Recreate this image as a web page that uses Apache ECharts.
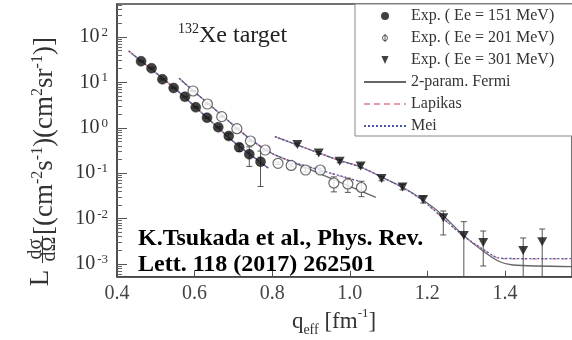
<!DOCTYPE html>
<html><head><meta charset="utf-8">
<script src="https://cdn.jsdelivr.net/npm/echarts@6/dist/echarts.min.js"></script>
<style>html,body{margin:0;padding:0;background:#fff}#c{width:572px;height:340px}</style>
</head><body><div id="c"></div>
<script>
// ---- axes / ticks ----
const xTickValues = [0.4, 0.6, 0.8, 1.0, 1.2, 1.4];
const xTickLabels = ['0.4', '0.6', '0.8', '1.0', '1.2', '1.4'];
const yTickValues = [1e-3, 1e-2, 1e-1, 1, 10, 100];
const yTickExponents = ['-3', '-2', '-1', '0', '1', '2'];

// ---- Exp. Ee = 151 MeV ----
const q151 = [0.462, 0.489, 0.517, 0.546, 0.575, 0.603, 0.632, 0.661, 0.688, 0.715, 0.741, 0.770];
const cs151 = [29.2, 20.5, 11.7, 7.53, 4.84, 2.83, 1.67, 1.03, 0.659, 0.372, 0.261, 0.179];
const err151 = [1.0, 0.7, 0.4, 0.25, 0.15, 0.09, 0.05, 0.04, 0.10, 0.07, 0.12, 0.128];

// ---- Exp. Ee = 201 MeV ----
const q201 = [0.596, 0.633, 0.670, 0.709, 0.744, 0.782, 0.815, 0.849, 0.886, 0.924, 0.959, 0.995, 1.030];
const cs201 = [6.47, 3.34, 1.76, 0.955, 0.512, 0.324, 0.165, 0.148, 0.1175, 0.1175, 0.0608, 0.0578, 0.0484];
const err201 = [0.2, 0.1, 0.06, 0.03, 0.02, 0.015, 0.01, 0.01, 0.012, 0.012, 0.022, 0.02, 0.018];

// ---- Exp. Ee = 301 MeV ----
const q301 = [0.865, 0.920, 0.974, 1.028, 1.082, 1.136, 1.189, 1.241, 1.294, 1.344, 1.447, 1.496];
const cs301 = [0.429, 0.279, 0.184, 0.144, 0.0764, 0.0497, 0.0264, 0.0104, 0.00425, 0.00298, 0.00198, 0.00310];
const lo301 = [0.40, 0.26, 0.17, 0.13, 0.068, 0.043, 0.022, 0.00436, 0, 0.000904, 0, 0];
const hi301 = [0.46, 0.30, 0.20, 0.16, 0.085, 0.057, 0.031, 0.0147, 0.00855, 0.00533, 0.00374, 0.0059];

// ---- 2-param. Fermi curves ----
const fermiQ151 = [0.430, 0.500, 0.550, 0.600, 0.650, 0.700, 0.750, 0.790];
const fermiV151 = [49.2, 16.4, 7.22, 2.98, 1.21, 0.497, 0.233, 0.130];
const fermiQ201 = [0.56, 0.60, 0.65, 0.70, 0.75, 0.80, 0.85, 0.90, 0.95, 1.00, 1.067];
const fermiV201 = [12.3, 6.15, 2.65, 1.14, 0.509, 0.272, 0.179, 0.118, 0.0776, 0.0514, 0.0294];
const fermiQ301 = [0.807, 0.865, 0.920, 0.974, 1.028, 1.082, 1.136, 1.189, 1.239, 1.292, 1.346, 1.387, 1.420, 1.573];
const fermiV301 = [0.637, 0.418, 0.279, 0.1905, 0.137, 0.0824, 0.0489, 0.0257, 0.0120, 0.00436, 0.00187, 0.00112, 0.00095, 0.000873];

// ---- Lapikas curves ----
const lapQ151 = [0.430, 0.500, 0.550, 0.600, 0.650, 0.700, 0.750, 0.790];
const lapV151 = [49.0, 16.5, 7.25, 3.0, 1.22, 0.50, 0.235, 0.132];
const lapQ201 = [0.56, 0.60, 0.65, 0.70, 0.75, 0.80, 0.85, 0.90, 0.95, 1.00, 1.025];
const lapV201 = [12.3, 6.15, 2.65, 1.14, 0.509, 0.272, 0.179, 0.132, 0.0995, 0.0748, 0.064];
const lapQ301 = [0.807, 0.865, 0.920, 0.974, 1.028, 1.082, 1.136, 1.189, 1.239, 1.292, 1.346, 1.383, 1.420, 1.573];
const lapV301 = [0.637, 0.418, 0.279, 0.1905, 0.137, 0.0824, 0.0489, 0.0245, 0.0103, 0.00414, 0.00203, 0.00134, 0.00130, 0.00129];

// ---- Mei curves ----
const meiQ151 = [0.430, 0.500, 0.550, 0.600, 0.650, 0.700, 0.750, 0.790];
const meiV151 = [49.3, 16.3, 7.2, 2.97, 1.21, 0.495, 0.232, 0.129];
const meiQ201 = [0.56, 0.60, 0.65, 0.70, 0.75, 0.80, 0.85, 0.90, 0.95, 1.00, 1.025];
const meiV201 = [12.3, 6.15, 2.65, 1.14, 0.509, 0.272, 0.180, 0.135, 0.101, 0.0765, 0.066];
const meiQ301 = [0.807, 0.865, 0.920, 0.974, 1.028, 1.082, 1.136, 1.189, 1.239, 1.292, 1.346, 1.383, 1.420, 1.573];
const meiV301 = [0.637, 0.418, 0.279, 0.1905, 0.137, 0.0824, 0.0489, 0.0247, 0.0105, 0.00420, 0.00205, 0.00136, 0.00132, 0.00131];

const NAMES = ['Exp. ( Ee = 151 MeV)', 'Exp. ( Ee = 201 MeV)', 'Exp. ( Ee = 301 MeV)', '2-param. Fermi', 'Lapikas', 'Mei'];

const SERIF = '"Liberation Serif", "Times New Roman", serif';
const Y_MIN = 5.25e-4, Y_MAX = 533;
const X_MIN = 0.4, X_MAX = 1.5728;

const yMinor = [];
for (let e = -4; e <= 2; e++) for (let k = 2; k <= 9; k++) {
  const v = k * Math.pow(10, e);
  if (v > Y_MIN && v < Y_MAX) yMinor.push(v);
}

const pairs = (q, v) => q.map((x, i) => [x, v[i]]);
const FERMI = { color: '#666', width: 1.3, type: 'solid' };
const LAP = { color: '#e89aa6', width: 1.3, type: [6, 4] };
const MEI = { color: '#4a58a8', width: 1.3, type: [2, 2] };

function curve(name, q, v, ls) {
  return { type: 'line', name, data: pairs(q, v), symbol: 'none', smooth: 0.25,
    lineStyle: ls, itemStyle: { color: ls.color }, z: 2, silent: true, animation: false };
}
function errRender(params, api) {
  const x = api.value(0);
  const loRaw = api.value(1);
  const lo = Math.max(loRaw, Y_MIN);
  const hi = api.value(2);
  const top = api.coord([x, hi]);
  const bot = api.coord([x, lo]);
  const st = { stroke: '#555', lineWidth: 1 };
  const cap = 3;
  const ch = [
    { type: 'line', shape: { x1: top[0], y1: top[1], x2: bot[0], y2: bot[1] }, style: st },
    { type: 'line', shape: { x1: top[0] - cap, y1: top[1], x2: top[0] + cap, y2: top[1] }, style: st }
  ];
  if (loRaw > Y_MIN) ch.push({ type: 'line', shape: { x1: bot[0] - cap, y1: bot[1], x2: bot[0] + cap, y2: bot[1] }, style: st });
  return { type: 'group', children: ch };
}
function errSeries(data) {
  return { type: 'custom', renderItem: errRender, data, encode: { x: 0, y: [1, 2] }, z: 3, silent: true, animation: false };
}

const chart = echarts.init(document.getElementById('c'), null, { renderer: 'canvas' });
chart.setOption({
  animation: false,
  backgroundColor: '#fff',
  grid: { left: 117, top: 4, right: -20, bottom: 63.3, show: true, borderColor: '#444', borderWidth: 1.5 },
  xAxis: {
    type: 'value', min: X_MIN, max: X_MAX, interval: 0.2,
    axisLine: { show: true, lineStyle: { color: '#444', width: 1.5 } },
    axisTick: { inside: true, length: 6, customValues: xTickValues, lineStyle: { color: '#555' } },
    axisLabel: { customValues: xTickValues, margin: 7, fontSize: 20, fontFamily: SERIF, color: '#444',
      formatter: v => xTickLabels[xTickValues.findIndex(t => Math.abs(t - v) < 1e-6)] || '' },
    splitLine: { show: false }
  },
  yAxis: [{
    type: 'log', logBase: 10, min: Y_MIN, max: Y_MAX,
    axisLine: { show: true, lineStyle: { color: '#444', width: 1.5 } },
    axisTick: { inside: true, length: 10, customValues: yTickValues, lineStyle: { color: '#555' } },
    axisLabel: {
      customValues: yTickValues, margin: 9, color: '#333', fontFamily: SERIF,
      formatter: v => '{b|10}{e|' + yTickExponents[Math.round(Math.log10(v)) + 3] + '}',
      rich: {
        b: { fontSize: 20, lineHeight: 22, fontFamily: SERIF, color: '#333' },
        e: { fontSize: 13, lineHeight: 10, verticalAlign: 'top', fontFamily: SERIF, color: '#333', padding: [0, 0, 0, 2] }
      }
    },
    splitLine: { show: false }
  }, {
    type: 'log', logBase: 10, min: Y_MIN, max: Y_MAX, position: 'left',
    axisLine: { show: false },
    axisTick: { inside: true, length: 5, customValues: yMinor, lineStyle: { color: '#666' } },
    axisLabel: { show: false },
    splitLine: { show: false }
  }],
  legend: {
    orient: 'vertical', left: 355, top: 4, padding: [4, 30, 2, 8],
    backgroundColor: '#fff', borderColor: '#888', borderWidth: 1,
    itemWidth: 42, itemHeight: 8, itemGap: 6,
    textStyle: { fontSize: 16, fontFamily: SERIF, color: '#333', lineHeight: 16 },
    data: [
      { name: NAMES[0], icon: 'circle', itemStyle: { color: '#111', borderWidth: 0 } },
      { name: NAMES[1], icon: 'path://M4,0 L4,13 M0,6.5 A4,4.5 0 1,0 8,6.5 A4,4.5 0 1,0 0,6.5 Z',
        itemStyle: { color: '#fff', borderColor: '#333', borderWidth: 1 } },
      { name: NAMES[2], icon: 'path://M0,0 L8,0 L4,9 Z', itemStyle: { color: '#111', borderWidth: 0 } },
      { name: NAMES[3], itemStyle: { opacity: 0 } },
      { name: NAMES[4], itemStyle: { opacity: 0 } },
      { name: NAMES[5], itemStyle: { opacity: 0 } }
    ],
    selectedMode: false
  },
  series: [
    curve(NAMES[3], fermiQ151, fermiV151, FERMI),
    curve(NAMES[3], fermiQ201, fermiV201, FERMI),
    curve(NAMES[3], fermiQ301, fermiV301, FERMI),
    curve(NAMES[4], lapQ151, lapV151, LAP),
    curve(NAMES[4], lapQ201, lapV201, LAP),
    curve(NAMES[4], lapQ301, lapV301, LAP),
    curve(NAMES[5], meiQ151, meiV151, MEI),
    curve(NAMES[5], meiQ201, meiV201, MEI),
    curve(NAMES[5], meiQ301, meiV301, MEI),
    errSeries(q151.map((x, i) => [x, cs151[i] - err151[i], cs151[i] + err151[i]])),
    errSeries(q201.map((x, i) => [x, cs201[i] - err201[i], cs201[i] + err201[i]])),
    errSeries(q301.map((x, i) => [x, lo301[i], hi301[i]])),
    { type: 'scatter', name: NAMES[0], data: pairs(q151, cs151), symbol: 'circle', symbolSize: 10,
      itemStyle: { color: '#111', borderColor: '#111', borderWidth: 0.5 }, z: 4 },
    { type: 'scatter', name: NAMES[1], data: pairs(q201, cs201), symbol: 'circle', symbolSize: 10,
      itemStyle: { color: '#fff', borderColor: '#444', borderWidth: 1.2 }, z: 4 },
    { type: 'scatter', name: NAMES[2], data: pairs(q301, cs301), symbol: 'triangle', symbolRotate: 180, symbolSize: [10, 9],
      itemStyle: { color: '#111' }, z: 4 }
  ],
  graphic: [
    { type: 'text', left: 178, top: 22, z: 10, style: { text: '{s|132}{m|Xe target}', fill: '#222',
      rich: { s: { fontSize: 14, lineHeight: 4, verticalAlign: 'top', fontFamily: SERIF, fill: '#222' },
              m: { fontSize: 24, lineHeight: 28, fontFamily: SERIF, fill: '#222' } } } },
    { type: 'text', x: 138, y: 238.5, z: 10, style: { text: 'K.Tsukada et al., Phys. Rev.', fontSize: 24, fontWeight: 'bold',
      fontFamily: SERIF, fill: '#000', align: 'left', verticalAlign: 'middle' } },
    { type: 'text', x: 138, y: 265, z: 10, style: { text: 'Lett. 118 (2017) 262501', fontSize: 24, fontWeight: 'bold',
      fontFamily: SERIF, fill: '#000', align: 'left', verticalAlign: 'middle' } },
    { type: 'text', x: 334, y: 322, z: 10, style: { text: '{m|q}{d|eff}{m| [fm}{u|-1}{m|]}', align: 'center', verticalAlign: 'middle', fill: '#333',
      rich: { m: { fontSize: 23, lineHeight: 30, fontFamily: SERIF, fill: '#333' },
              d: { fontSize: 14, lineHeight: 4, verticalAlign: 'bottom', fontFamily: SERIF, fill: '#333' },
              u: { fontSize: 13, lineHeight: 18, verticalAlign: 'top', fontFamily: SERIF, fill: '#333' } } } },
    { type: 'text', x: 41, y: 278, rotation: Math.PI / 2, z: 10, style: { text: 'L', fontSize: 27, fontFamily: SERIF,
      fill: '#333', align: 'center', verticalAlign: 'middle' } },
    { type: 'text', x: 35.5, y: 249, rotation: Math.PI / 2, z: 10, style: { text: 'dσ', fontSize: 20, fontFamily: SERIF,
      fill: '#333', align: 'center', verticalAlign: 'middle' } },
    { type: 'text', x: 49.5, y: 249, rotation: Math.PI / 2, z: 10, style: { text: 'dΩ', fontSize: 20, fontFamily: SERIF,
      fill: '#333', align: 'center', verticalAlign: 'middle' } },
    { type: 'line', z: 10, shape: { x1: 42.5, y1: 236, x2: 42.5, y2: 263 }, style: { stroke: '#333', lineWidth: 1 } },
    { type: 'text', x: 45, y: 235, rotation: Math.PI / 2, z: 10, style: {
      text: '[(cm{s|-2}s{s|-1})(cm{s|2}sr{s|-1})]', fontSize: 27, lineHeight: 30, fontFamily: SERIF, fill: '#333',
      align: 'left', verticalAlign: 'middle',
      rich: { s: { fontSize: 16, lineHeight: 12, verticalAlign: 'top', fontFamily: SERIF, fill: '#333' } } } }
  ]
});
</script>
</body></html>
